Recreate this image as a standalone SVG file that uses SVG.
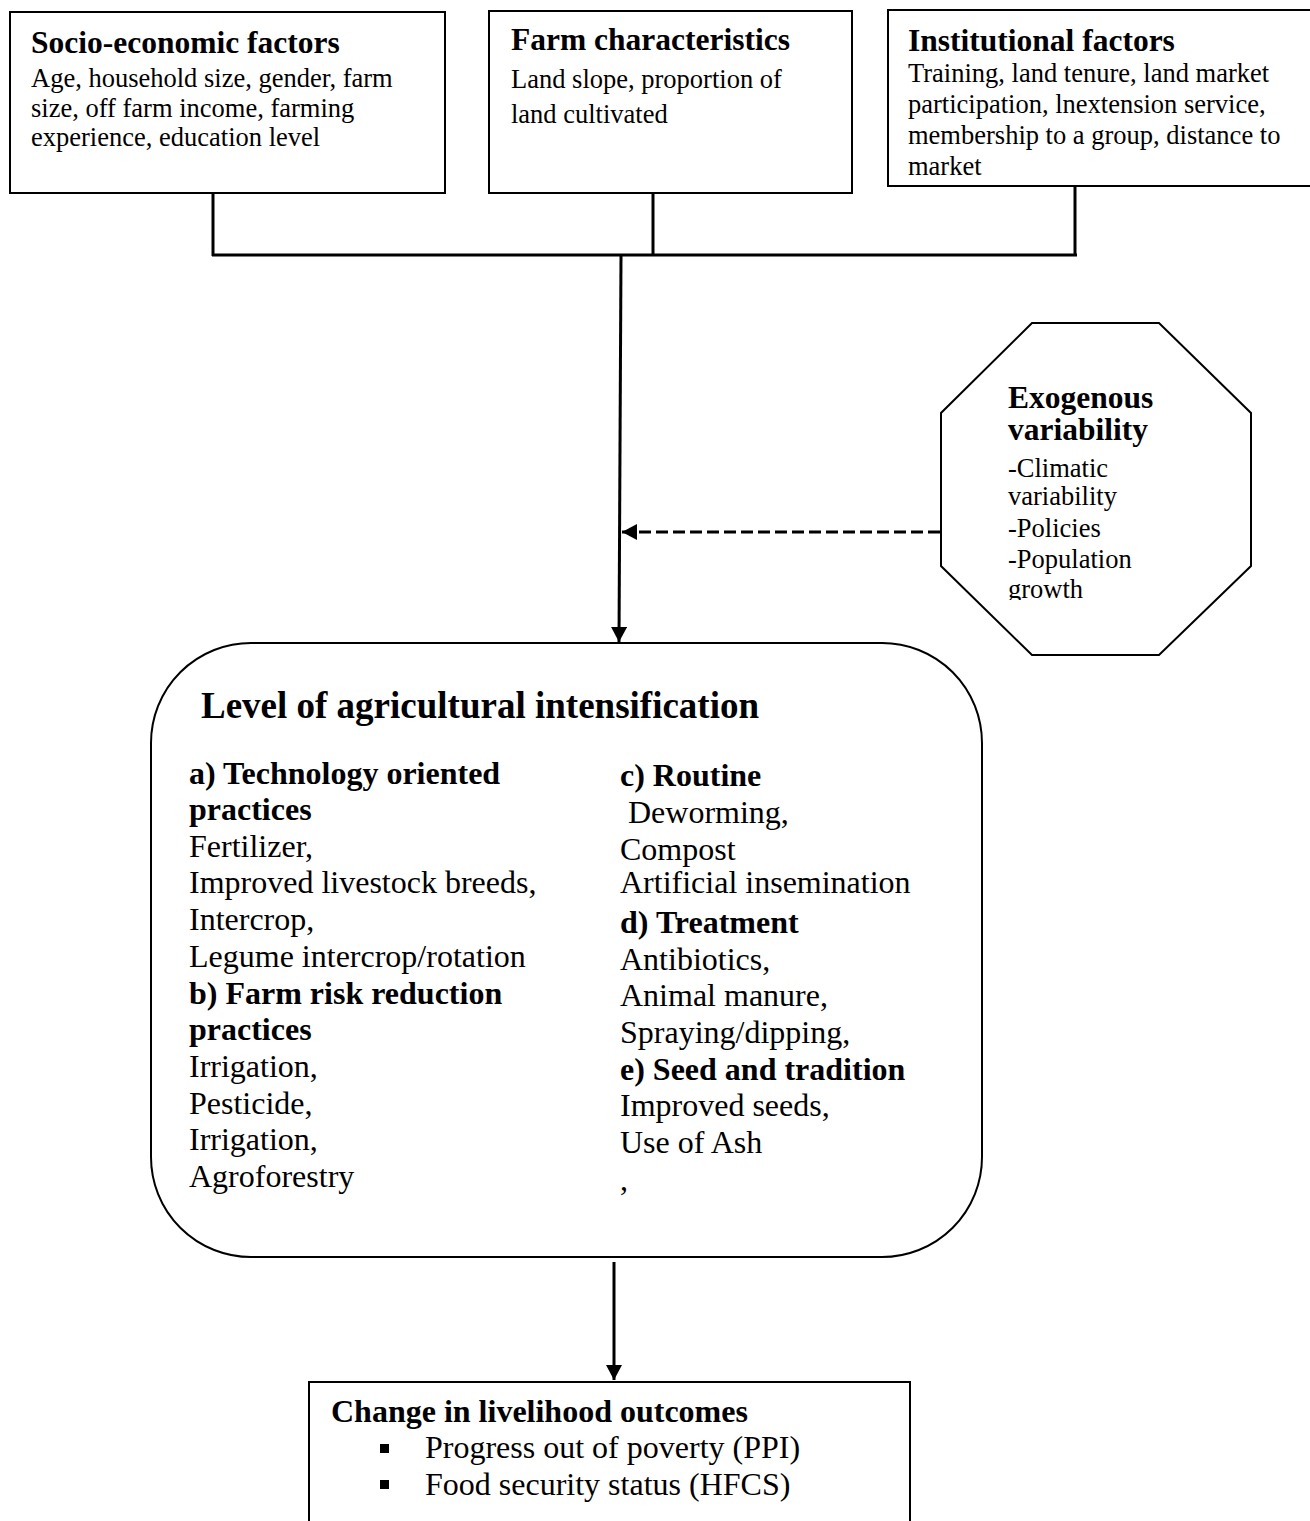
<svg xmlns="http://www.w3.org/2000/svg" width="1310" height="1521" viewBox="0 0 1310 1521">
<style>
  text { font-family: "Liberation Serif", "Times New Roman", serif; fill: #000; }
  .t { font-weight: bold; font-size: 31.5px; }
  .b { font-size: 26.5px; }
  .h { font-weight: bold; font-size: 37px; }
  .m { font-size: 32px; }
  .mb { font-size: 32px; font-weight: bold; }
  .box { fill: #fff; stroke: #000; stroke-width: 2; }
  .ln { fill: none; stroke: #000; stroke-width: 3; }
  .dash { fill: none; stroke: #000; stroke-width: 3; stroke-dasharray: 12 5; }
</style>
<defs>
  <marker id="arr" markerUnits="userSpaceOnUse" markerWidth="16" markerHeight="16" viewBox="0 0 16 16" refX="15" refY="8" orient="auto">
    <path d="M0,0 L15,8 L0,16 Z" fill="#000"/>
  </marker>
  <clipPath id="octclip"><rect x="940" y="320" width="320" height="280"/></clipPath>
</defs>
<rect width="1310" height="1521" fill="#fff"/>

<g id="connectors">
  <line class="ln" x1="213" y1="193" x2="213" y2="256"/>
  <line class="ln" x1="653" y1="193" x2="653" y2="256"/>
  <line class="ln" x1="1075" y1="186" x2="1075" y2="256"/>
  <line class="ln" x1="212" y1="255" x2="1077" y2="255"/>
  <line class="ln" x1="621" y1="255" x2="619" y2="642" marker-end="url(#arr)"/>
  <line class="dash" x1="940" y1="532" x2="622" y2="532" marker-end="url(#arr)"/>
  <line class="ln" x1="614" y1="1262" x2="614" y2="1380" marker-end="url(#arr)"/>
</g>

<g id="socio">
  <rect class="box" x="10" y="12" width="435" height="181"/>
  <text class="t" x="31" y="53">Socio-economic factors</text>
  <text class="b" x="31" y="87">Age, household size, gender, farm</text>
  <text class="b" x="31" y="117">size, off farm income, farming</text>
  <text class="b" x="31" y="146">experience, education level</text>
</g>

<g id="farm">
  <rect class="box" x="489" y="11" width="363" height="182"/>
  <text class="t" x="511" y="50">Farm characteristics</text>
  <text class="b" x="511" y="88">Land slope, proportion of</text>
  <text class="b" x="511" y="123">land cultivated</text>
</g>

<g id="institutional">
  <rect class="box" x="888" y="10" width="440" height="176"/>
  <text class="t" x="908" y="51">Institutional factors</text>
  <text class="b" x="908" y="82">Training, land tenure, land market</text>
  <text class="b" x="908" y="113">participation, lnextension service,</text>
  <text class="b" x="908" y="144">membership to a group, distance to</text>
  <text class="b" x="908" y="175">market</text>
</g>

<g id="exogenous">
  <polygon class="box" points="1032,323 1159,323 1251,413 1251,566 1159,655 1032,655 941,566 941,413"/>
  <g clip-path="url(#octclip)">
    <text class="t" x="1008" y="408">Exogenous</text>
    <text class="t" x="1008" y="440">variability</text>
    <text class="b" x="1008" y="477">-Climatic</text>
    <text class="b" x="1008" y="505">variability</text>
    <text class="b" x="1008" y="537">-Policies</text>
    <text class="b" x="1008" y="568">-Population</text>
    <text class="b" x="1008" y="598">growth</text>
  </g>
</g>

<g id="intensification">
  <rect class="box" x="151" y="643" width="831" height="614" rx="100" ry="100"/>
  <text class="h" x="201" y="718">Level of agricultural intensification</text>
  <text class="mb" x="189" y="784">a) Technology oriented</text>
  <text class="mb" x="189" y="820">practices</text>
  <text class="m" x="189" y="857">Fertilizer,</text>
  <text class="m" x="189" y="893">Improved livestock breeds,</text>
  <text class="m" x="189" y="930">Intercrop,</text>
  <text class="m" x="189" y="967">Legume intercrop/rotation</text>
  <text class="mb" x="189" y="1004">b) Farm risk reduction</text>
  <text class="mb" x="189" y="1040">practices</text>
  <text class="m" x="189" y="1077">Irrigation,</text>
  <text class="m" x="189" y="1114">Pesticide,</text>
  <text class="m" x="189" y="1150">Irrigation,</text>
  <text class="m" x="189" y="1187">Agroforestry</text>

  <text class="mb" x="620" y="786">c) Routine</text>
  <text class="m" x="620" y="823" xml:space="preserve"> Deworming,</text>
  <text class="m" x="620" y="860">Compost</text>
  <text class="m" x="620" y="893">Artificial insemination</text>
  <text class="mb" x="620" y="933">d) Treatment</text>
  <text class="m" x="620" y="970">Antibiotics,</text>
  <text class="m" x="620" y="1006">Animal manure,</text>
  <text class="m" x="620" y="1043">Spraying/dipping,</text>
  <text class="mb" x="620" y="1080">e) Seed and tradition</text>
  <text class="m" x="620" y="1116">Improved seeds,</text>
  <text class="m" x="620" y="1153">Use of Ash</text>
  <text class="m" x="620" y="1190">,</text>
</g>

<g id="livelihood">
  <rect class="box" x="309" y="1382" width="601" height="160"/>
  <text class="mb" x="331" y="1422">Change in livelihood outcomes</text>
  <rect x="380" y="1444" width="9" height="9" fill="#000"/>
  <text class="m" x="425" y="1458">Progress out of poverty (PPI)</text>
  <rect x="380" y="1480" width="9" height="9" fill="#000"/>
  <text class="m" x="425" y="1495">Food security status (HFCS)</text>
</g>
</svg>
